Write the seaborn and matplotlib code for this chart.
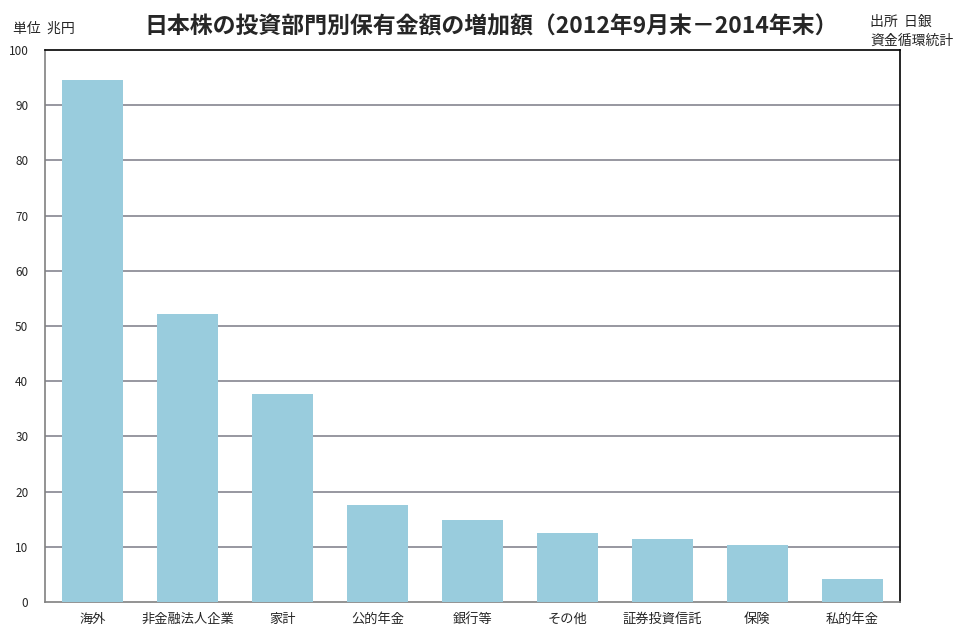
import numpy as np
import pandas as pd
import matplotlib
matplotlib.use("Agg")
import matplotlib.pyplot as plt
import seaborn as sns

# 増加額（兆円）
sectors = ["海外", "非金融法人企業", "家計", "公的年金", "銀行等", "その他", "証券投資信託", "保険", "私的年金"]
increase = [94.6, 52.2, 37.7, 17.6, 14.9, 12.5, 11.4, 10.3, 4.2]
yticks = list(range(0, 101, 10))

sns.set_style("white")
plt.rcParams['font.family'] = ['Noto Sans CJK JP', 'DejaVu Sans']

df = pd.DataFrame({"sector": sectors, "increase": increase})

fig = plt.figure(figsize=(9.79, 6.41), dpi=100)
ax = fig.add_axes([0.046, 0.061, 0.873, 0.861])

sns.barplot(data=df, x="sector", y="increase", color="#99CCDD", saturation=1,
            width=0.64, linewidth=0, edgecolor="none", ax=ax, zorder=3)

ax.set_ylim(0, 100)
ax.set_xlim(-0.5, len(sectors) - 0.5)
ax.set_yticks(yticks)
ax.set_yticklabels([str(v) for v in yticks], fontsize=8.5)
for v in yticks[1:-1]:
    ax.axhline(v, color="#7a7a86", lw=1.1, zorder=1)
ax.set_xlabel("")
ax.set_ylabel("")
ax.tick_params(axis="x", length=0, labelsize=9.5, pad=8)
ax.tick_params(axis="y", length=4, color="#808080", width=1, pad=8)
ax.set_xticks(np.arange(-0.5, len(sectors)), minor=True)
ax.tick_params(axis="x", which="minor", length=5, color="#808080", width=1, direction="out")

for side in ["left", "bottom"]:
    ax.spines[side].set_color("#808080")
    ax.spines[side].set_linewidth(1.2)
for side in ["top", "right"]:
    ax.spines[side].set_visible(True)
    ax.spines[side].set_color("black")
    ax.spines[side].set_linewidth(1.2)

fig.text(0.502, 0.958, "日本株の投資部門別保有金額の増加額（2012年9月末－2014年末）",
         ha="center", va="center", fontsize=16.5, fontweight="bold")
fig.text(0.013, 0.955, "単位  兆円", ha="left", va="center", fontsize=10)
fig.text(0.889, 0.966, "出所  日銀", ha="left", va="center", fontsize=10)
fig.text(0.889, 0.937, "資金循環統計", ha="left", va="center", fontsize=10)

fig.savefig("out.png", dpi=100, facecolor="white")
